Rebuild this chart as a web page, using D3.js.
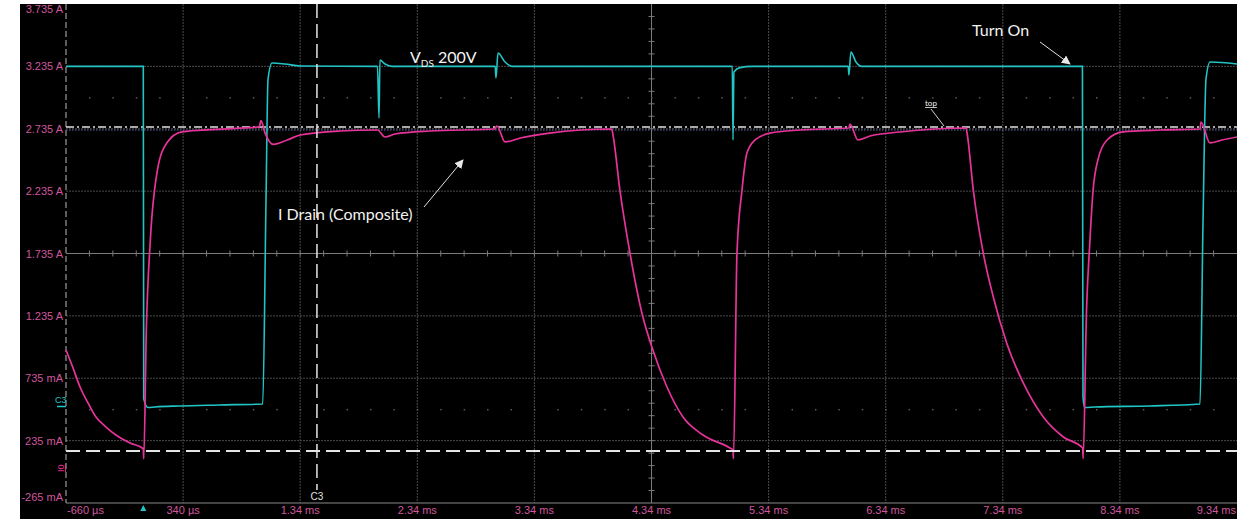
<!DOCTYPE html>
<html>
<head>
<meta charset="utf-8">
<script src="https://cdn.jsdelivr.net/npm/d3@7"></script>
<style>
  html, body { margin: 0; padding: 0; background: #fff; overflow: hidden; }
  text { font-family: "Liberation Sans Narrow", "Liberation Sans", sans-serif; }
  text.note { font-family: Lato, "Open Sans", sans-serif; fill: #f2f2f2; }
</style>
</head>
<body>
<div id="container"></div>
<script>
/* CONSTANTS AND GLOBALS */
const width = 1237,
  height = 519,
  plot = { left: 66, right: 1237, top: 4, bottom: 503 };

/* DATA */
// time axis (ms) and current axis (A)
const xTicks = [-0.66, 0.34, 1.34, 2.34, 3.34, 4.34, 5.34, 6.34, 7.34, 8.34, 9.34];
const xTickLabels = ["-660 µs", "340 µs", "1.34 ms", "2.34 ms", "3.34 ms", "4.34 ms",
  "5.34 ms", "6.34 ms", "7.34 ms", "8.34 ms", "9.34 ms"];
const yTicks = [3.735, 3.235, 2.735, 2.235, 1.735, 1.235, 0.735, 0.235, -0.265];
const yTickLabels = ["3.735 A", "3.235 A", "2.735 A", "2.235 A", "1.735 A", "1.235 A",
  "735 mA", "235 mA", "-265 mA"];

// I Drain (composite), [ms, A]
const iDrain = [
  [-0.66, 0.961], [-0.60, 0.817], [-0.54, 0.665], [-0.472, 0.537], [-0.404, 0.424], [-0.318, 0.344],
  [-0.233, 0.28], [-0.113, 0.216], [0.00, 0.17],
  [0.004, 0.09], [0.026, 1.12], [0.06, 1.84], [0.12, 2.40], [0.20, 2.62], [0.33, 2.71], [0.62, 2.73], [0.99, 2.75],
  [1.005, 2.80], [1.04, 2.70], [1.11, 2.61], [1.23, 2.645], [1.34, 2.685], [1.68, 2.717], [2.00, 2.725],
  [2.064, 2.669], [2.15, 2.693], [2.45, 2.717], [3.00, 2.733],
  [3.02, 2.757], [3.09, 2.629], [3.22, 2.661], [3.47, 2.70], [4.00, 2.733],
  [4.012, 2.68], [4.07, 2.244], [4.156, 1.739], [4.26, 1.25], [4.352, 0.961], [4.472, 0.665],
  [4.609, 0.424], [4.78, 0.28], [5.01, 0.176], [5.036, 0.16],
  [5.04, 0.09], [5.07, 1.739], [5.113, 2.244], [5.155, 2.54], [5.224, 2.645], [5.352, 2.70], [5.608, 2.725], [6.026, 2.741],
  [6.035, 2.773], [6.103, 2.645], [6.206, 2.677], [6.462, 2.709], [7.026, 2.741],
  [7.038, 2.68], [7.088, 2.244], [7.173, 1.739], [7.259, 1.386], [7.373, 1.018], [7.515, 0.697],
  [7.686, 0.424], [7.857, 0.264], [8.022, 0.176],
  [8.026, 0.09], [8.055, 1.282], [8.083, 1.819], [8.109, 2.22], [8.152, 2.485], [8.23, 2.645],
  [8.366, 2.71], [8.682, 2.725], [9.024, 2.733],
  [9.033, 2.789], [9.109, 2.621], [9.212, 2.645], [9.34, 2.669]
];

// VDS trace as shown on the same screen, [ms, A-scale]
const vds = [
  [-0.66, 3.235], [0.00, 3.235], [0.004, 0.57], [0.04, 0.50], [0.10, 0.505], [0.31, 0.513], [0.65, 0.521], [1.02, 0.529],
  [1.048, 2.16], [1.065, 3.13], [1.10, 3.262], [1.21, 3.254], [1.34, 3.238], [2.00, 3.235],
  [2.013, 2.82], [2.021, 3.286], [2.064, 3.254], [2.124, 3.235], [3.005, 3.235],
  [3.012, 3.142], [3.029, 3.342], [3.089, 3.27], [3.149, 3.235], [5.03, 3.235],
  [5.036, 2.645], [5.044, 3.19], [5.096, 3.225], [5.2, 3.235], [6.02, 3.235],
  [6.026, 3.166], [6.043, 3.35], [6.086, 3.27], [6.137, 3.235], [8.02, 3.235],
  [8.025, 0.585], [8.04, 0.50], [8.127, 0.505], [8.597, 0.513], [9.024, 0.529],
  [9.05, 2.0], [9.075, 3.13], [9.11, 3.27], [9.34, 3.254]
];

// cursors / measurement levels
const cursorTime = 1.483;
const cursorLevel = 0.152;
const topLevel = 2.749;
const topLevel2 = 2.725;
const dotRows = [2.985, 0.485];

/* SCALES */
const xScale = d3.scaleLinear().domain([-0.66, 9.34]).range([plot.left, plot.right]);
const yScale = d3.scaleLinear().domain([-0.265, 3.735]).range([plot.bottom, plot.top]);

/* SVG */
const svg = d3.select("#container")
  .append("svg")
  .attr("width", width)
  .attr("height", height);

const defs = svg.append("defs");
defs.append("marker")
  .attr("id", "arrow")
  .attr("viewBox", "0 0 10 10")
  .attr("refX", 9).attr("refY", 5)
  .attr("markerWidth", 9).attr("markerHeight", 9)
  .attr("markerUnits", "userSpaceOnUse")
  .attr("orient", "auto")
  .append("path")
  .attr("d", "M0,0 L10,5 L0,10 z")
  .attr("fill", "#e8e8e8");

svg.append("rect")
  .attr("x", 20).attr("y", 4)
  .attr("width", width - 20).attr("height", height - 4)
  .attr("fill", "#000");

// grid
const grid = svg.append("g");
grid.selectAll(".vg")
  .data(xTicks.slice(1, -1))
  .join("line")
  .attr("x1", d => xScale(d)).attr("x2", d => xScale(d))
  .attr("y1", plot.top).attr("y2", plot.bottom)
  .attr("stroke", d => d === 4.34 ? "#7a7a7a" : "#4a4a4a")
  .attr("stroke-dasharray", d => d === 4.34 ? null : "2,1");

grid.selectAll(".hg")
  .data(yTicks.slice(1, -1))
  .join("line")
  .attr("x1", plot.left).attr("x2", plot.right)
  .attr("y1", d => yScale(d)).attr("y2", d => yScale(d))
  .attr("stroke", d => d === 1.735 ? "#7a7a7a" : "#4a4a4a")
  .attr("stroke-dasharray", d => d === 1.735 ? null : "2,1");

// minor ticks on centre lines
const minorX = d3.range(0, 50).map(i => -0.66 + i * 0.2).filter(d => d > -0.66);
grid.selectAll(".mx")
  .data(minorX)
  .join("line")
  .attr("x1", d => xScale(d)).attr("x2", d => xScale(d))
  .attr("y1", yScale(1.735) - 3).attr("y2", yScale(1.735) + 3)
  .attr("stroke", "#7a7a7a");
const minorY = d3.range(0, 40).map(i => -0.265 + i * 0.1).filter(d => d > -0.265);
grid.selectAll(".my")
  .data(minorY)
  .join("line")
  .attr("x1", xScale(4.34) - 3).attr("x2", xScale(4.34) + 3)
  .attr("y1", d => yScale(d)).attr("y2", d => yScale(d))
  .attr("stroke", "#7a7a7a");

// rows of dots
dotRows.forEach(r => {
  grid.selectAll(null)
    .data(minorX)
    .join("rect")
    .attr("x", d => xScale(d) - 0.5).attr("y", yScale(r) - 0.5)
    .attr("width", 1.5).attr("height", 1.5)
    .attr("fill", "#5a5a5a");
});

// frame
svg.append("line")
  .attr("x1", plot.left).attr("x2", plot.left)
  .attr("y1", plot.top).attr("y2", plot.bottom)
  .attr("stroke", "#b8b8b8").attr("stroke-dasharray", "6,3");
svg.append("line")
  .attr("x1", plot.left).attr("x2", plot.right)
  .attr("y1", plot.bottom).attr("y2", plot.bottom)
  .attr("stroke", "#8a8a8a");

// axis labels
const tickColor = "#d0579e";
svg.append("g").selectAll("text")
  .data(yTicks)
  .join("text")
  .attr("x", plot.left - 3)
  .attr("y", (d, i) => i === 0 ? yScale(d) + 9 : i === yTicks.length - 1 ? yScale(d) - 2 : yScale(d) + 4)
  .attr("text-anchor", "end")
  .attr("font-size", 11)
  .attr("fill", tickColor)
  .text((d, i) => yTickLabels[i]);

svg.append("g").selectAll("text")
  .data(xTicks)
  .join("text")
  .attr("x", (d, i) => i === 0 ? xScale(d) + 1 : i === xTicks.length - 1 ? xScale(d) - 1 : xScale(d))
  .attr("y", 514)
  .attr("text-anchor", (d, i) => i === 0 ? "start" : i === xTicks.length - 1 ? "end" : "middle")
  .attr("font-size", 11)
  .attr("fill", tickColor)
  .text((d, i) => xTickLabels[i]);

// measurement levels
svg.append("line")
  .attr("x1", plot.left).attr("x2", plot.right)
  .attr("y1", yScale(topLevel2)).attr("y2", yScale(topLevel2))
  .attr("stroke", "#6870a8").attr("stroke-dasharray", "1.5,1.5");
svg.append("line")
  .attr("x1", plot.left).attr("x2", plot.right)
  .attr("y1", yScale(topLevel)).attr("y2", yScale(topLevel))
  .attr("stroke", "#e0e0e0").attr("stroke-width", 1.5).attr("stroke-dasharray", "8,3,2,3");

// traces
const line = d3.line()
  .x(d => xScale(d[0]))
  .y(d => yScale(d[1]))
  .curve(d3.curveMonotoneX);

svg.append("path")
  .datum(vds)
  .attr("d", line)
  .attr("fill", "none")
  .attr("stroke", "#22c4c6")
  .attr("stroke-width", 1.6);

svg.append("path")
  .datum(iDrain)
  .attr("d", line)
  .attr("fill", "none")
  .attr("stroke", "#e8339a")
  .attr("stroke-width", 1.7);

// cursors
svg.append("line")
  .attr("x1", plot.left).attr("x2", plot.right)
  .attr("y1", yScale(cursorLevel)).attr("y2", yScale(cursorLevel))
  .attr("stroke", "#e6e6e6").attr("stroke-width", 2).attr("stroke-dasharray", "14,6");
svg.append("line")
  .attr("x1", xScale(cursorTime)).attr("x2", xScale(cursorTime))
  .attr("y1", plot.top).attr("y2", 490)
  .attr("stroke", "#e6e6e6").attr("stroke-width", 1.5).attr("stroke-dasharray", "14,6");
svg.append("text")
  .attr("x", xScale(cursorTime)).attr("y", 500)
  .attr("text-anchor", "middle").attr("font-size", 10)
  .attr("fill", "#e0e0e0")
  .text("C3");

// channel markers
svg.append("text")
  .attr("x", 55).attr("y", 403)
  .attr("font-size", 9).attr("fill", "#22c4c6")
  .text("C3");
svg.append("line")
  .attr("x1", 57).attr("x2", 66).attr("y1", 406.5).attr("y2", 406.5)
  .attr("stroke", "#22c4c6").attr("stroke-width", 1.5);
svg.append("text")
  .attr("transform", "translate(64,472) rotate(-90)")
  .attr("font-size", 9).attr("fill", "#e8339a")
  .attr("text-decoration", "underline")
  .text("I0");
svg.append("path")
  .attr("d", `M${xScale(0) - 3},511 L${xScale(0) + 3},511 L${xScale(0)},505 Z`)
  .attr("fill", "#22c4c6");

// annotations
const vdsText = svg.append("text").attr("class", "note").attr("x", 410).attr("y", 63).attr("font-size", 16);
vdsText.append("tspan").text("V");
vdsText.append("tspan").attr("dy", 4).attr("font-size", 10).text("DS");
vdsText.append("tspan").attr("dy", -4).text(" 200V");

svg.append("text").attr("class", "note").attr("x", 972).attr("y", 36).attr("font-size", 16).text("Turn On");
svg.append("text").attr("class", "note").attr("x", 278).attr("y", 220).attr("font-size", 16).text("I Drain (Composite)");
svg.append("text").attr("class", "note").attr("x", 925).attr("y", 106).attr("font-size", 8)
  .attr("text-decoration", "underline").text("top");

svg.append("line")
  .attr("x1", 1040).attr("y1", 42).attr("x2", 1070).attr("y2", 64)
  .attr("stroke", "#e0e0e0").attr("marker-end", "url(#arrow)");
svg.append("line")
  .attr("x1", 424).attr("y1", 207).attr("x2", 463).attr("y2", 160)
  .attr("stroke", "#e0e0e0").attr("marker-end", "url(#arrow)");
svg.append("line")
  .attr("x1", 931).attr("y1", 109).attr("x2", 944).attr("y2", 126)
  .attr("stroke", "#d0d0d0");
</script>
</body>
</html>
